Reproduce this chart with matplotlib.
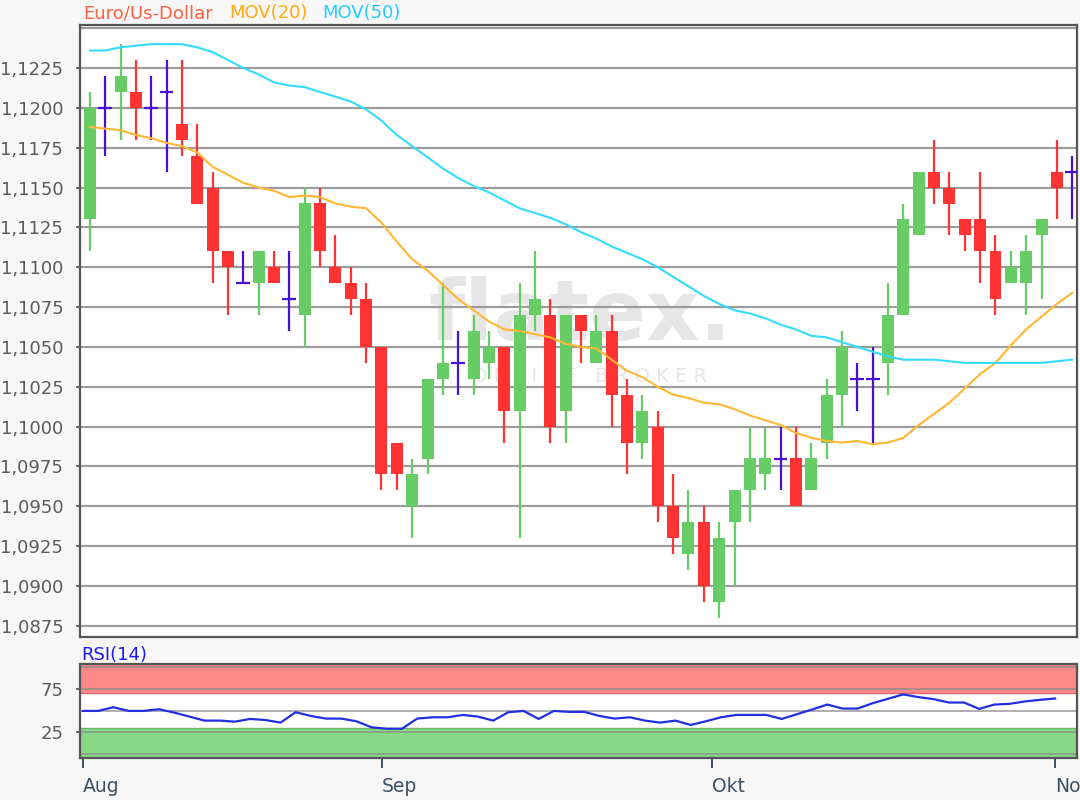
import numpy as np
import matplotlib
matplotlib.use("Agg")
import matplotlib.pyplot as plt
from matplotlib.ticker import FuncFormatter

plt.rcParams["font.family"] = ["DejaVu Sans"]

# ── Daily candles, Euro/Us-Dollar ────────────────────────────────────────────
opens = [1.1130, 1.1200, 1.1210, 1.1210, 1.1200, 1.1210, 1.1190, 1.1170, 1.1150, 1.1110,
         1.1090, 1.1090, 1.1100, 1.1080, 1.1070, 1.1140, 1.1100, 1.1090, 1.1080, 1.1050,
         1.0990, 1.0950, 1.0980, 1.1030, 1.1040, 1.1030, 1.1040, 1.1050, 1.1010, 1.1070,
         1.1070, 1.1010, 1.1070, 1.1040, 1.1060, 1.1020, 1.0990, 1.1000, 1.0950, 1.0920,
         1.0940, 1.0890, 1.0940, 1.0960, 1.0970, 1.0980, 1.0980, 1.0960, 1.0990, 1.1020,
         1.1030, 1.1030, 1.1040, 1.1070, 1.1120, 1.1160, 1.1150, 1.1130, 1.1130, 1.1110,
         1.1090, 1.1090, 1.1120, 1.1160, 1.1160]
highs = [1.1210, 1.1220, 1.1240, 1.1230, 1.1220, 1.1230, 1.1230, 1.1190, 1.1160, 1.1110,
         1.1110, 1.1110, 1.1110, 1.1110, 1.1150, 1.1150, 1.1120, 1.1100, 1.1090, 1.1050,
         1.0990, 1.0980, 1.1030, 1.1090, 1.1060, 1.1070, 1.1060, 1.1050, 1.1090, 1.1110,
         1.1080, 1.1070, 1.1070, 1.1070, 1.1070, 1.1030, 1.1020, 1.1010, 1.0970, 1.0960,
         1.0950, 1.0940, 1.0960, 1.1000, 1.1000, 1.1000, 1.1000, 1.0990, 1.1030, 1.1060,
         1.1040, 1.1050, 1.1090, 1.1140, 1.1160, 1.1180, 1.1160, 1.1130, 1.1160, 1.1120,
         1.1110, 1.1120, 1.1130, 1.1180, 1.1170]
lows = [1.1110, 1.1170, 1.1180, 1.1180, 1.1180, 1.1160, 1.1170, 1.1140, 1.1090, 1.1070,
        1.1090, 1.1070, 1.1090, 1.1060, 1.1050, 1.1100, 1.1090, 1.1070, 1.1040, 1.0960,
        1.0960, 1.0930, 1.0970, 1.1020, 1.1020, 1.1020, 1.1030, 1.0990, 1.0930, 1.1060,
        1.0990, 1.0990, 1.1040, 1.1040, 1.1000, 1.0970, 1.0980, 1.0940, 1.0920, 1.0910,
        1.0890, 1.0880, 1.0900, 1.0940, 1.0960, 1.0960, 1.0950, 1.0960, 1.0980, 1.1000,
        1.1010, 1.0990, 1.1020, 1.1070, 1.1120, 1.1140, 1.1120, 1.1110, 1.1090, 1.1070,
        1.1090, 1.1070, 1.1080, 1.1130, 1.1130]
closes = [1.1200, 1.1200, 1.1220, 1.1200, 1.1200, 1.1210, 1.1180, 1.1140, 1.1110, 1.1100,
          1.1090, 1.1110, 1.1090, 1.1080, 1.1140, 1.1110, 1.1090, 1.1080, 1.1050, 1.0970,
          1.0970, 1.0970, 1.1030, 1.1040, 1.1040, 1.1060, 1.1050, 1.1010, 1.1070, 1.1080,
          1.1000, 1.1070, 1.1060, 1.1060, 1.1020, 1.0990, 1.1010, 1.0950, 1.0930, 1.0940,
          1.0900, 1.0930, 1.0960, 1.0980, 1.0980, 1.0980, 1.0950, 1.0980, 1.1020, 1.1050,
          1.1030, 1.1030, 1.1070, 1.1130, 1.1160, 1.1150, 1.1140, 1.1120, 1.1110, 1.1080,
          1.1100, 1.1110, 1.1130, 1.1150, 1.1160]

# moving averages as drawn on the chart
mov20 = [1.1188, 1.1187, 1.1186, 1.1183, 1.1181, 1.1178, 1.1176, 1.1172, 1.1163, 1.1158,
         1.1153, 1.1150, 1.1148, 1.1144, 1.1145, 1.1144, 1.1140, 1.1138, 1.1137, 1.1128,
         1.1116, 1.1105, 1.1098, 1.1089, 1.1080, 1.1073, 1.1066, 1.1061, 1.1060, 1.1058,
         1.1056, 1.1052, 1.1050, 1.1049, 1.1042, 1.1035, 1.1031, 1.1025, 1.1020, 1.1018,
         1.1015, 1.1014, 1.1011, 1.1007, 1.1004, 1.1001, 1.0996, 1.0993, 1.0991, 1.0990,
         1.0991, 1.0989, 1.0990, 1.0993, 1.1001, 1.1008, 1.1015, 1.1024, 1.1033, 1.1040,
         1.1051, 1.1061, 1.1069, 1.1077, 1.1084]
mov50 = [1.1236, 1.1236, 1.1238, 1.1239, 1.1240, 1.1240, 1.1240, 1.1238, 1.1235, 1.1230,
         1.1225, 1.1221, 1.1216, 1.1214, 1.1213, 1.1210, 1.1207, 1.1204, 1.1199, 1.1192,
         1.1183, 1.1176, 1.1169, 1.1162, 1.1156, 1.1151, 1.1147, 1.1142, 1.1137, 1.1134,
         1.1131, 1.1127, 1.1122, 1.1118, 1.1113, 1.1109, 1.1105, 1.1100, 1.1094, 1.1088,
         1.1082, 1.1077, 1.1073, 1.1071, 1.1068, 1.1064, 1.1061, 1.1057, 1.1056, 1.1053,
         1.1050, 1.1047, 1.1044, 1.1042, 1.1042, 1.1042, 1.1041, 1.1040, 1.1040, 1.1040,
         1.1040, 1.1040, 1.1040, 1.1041, 1.1042]

rsi = [49.6, 49.6, 53.8, 49.6, 49.6, 51.5, 47.7, 43.1, 38.5, 38.5,
       37.3, 40.4, 39.2, 36.2, 48.1, 43.8, 40.8, 40.8, 37.7, 30.8,
       29.2, 29.2, 40.8, 42.3, 42.3, 45.0, 43.1, 38.5, 48.1, 49.6,
       40.4, 49.6, 48.5, 48.5, 43.8, 40.8, 42.3, 38.5, 36.2, 38.5,
       33.5, 37.7, 42.3, 45.0, 45.0, 45.0, 40.4, 45.8, 51.2, 56.9,
       52.3, 52.3, 58.5, 63.5, 68.5, 65.4, 63.1, 59.2, 59.2, 51.9,
       56.9, 57.7, 60.4, 62.3, 63.8]

price_ticks = [1.0875, 1.0900, 1.0925, 1.0950, 1.0975, 1.1000, 1.1025, 1.1050,
               1.1075, 1.1100, 1.1125, 1.1150, 1.1175, 1.1200, 1.1225]
month_labels = ["Aug", "Sep", "Okt", "Nov"]
month_pos = [0.0, 19.68, 41.41, 63.99]   # bar index of each month start (RSI panel)

# ── Colours ──────────────────────────────────────────────────────────────────
UP, DOWN, DOJI = "#66cc66", "#ff3333", "#4a0fd6"
C20, C50 = "#ffb733", "#33dcff"
GRID = "#9c9c9c"
FRAME = "#555555"
TICK_TXT = "#5a5a5a"

fig = plt.figure(figsize=(10.8, 8), dpi=100)
fig.patch.set_facecolor("#f7f7f7")

ax = fig.add_axes([80 / 1080, 1 - 637 / 800, 997 / 1080, 612 / 800])
ax_r = fig.add_axes([80 / 1080, 1 - 757.7 / 800, 997 / 1080, 93.4 / 800])

x = np.arange(len(opens))
o, h, l, c = map(np.array, (opens, highs, lows, closes))

# ── Candles ──────────────────────────────────────────────────────────────────
cols = np.where(c > o + 1e-9, UP, np.where(c < o - 1e-9, DOWN, DOJI))
ax.vlines(x, l, h, colors=cols, lw=1.6, zorder=3)
body = np.abs(c - o) > 1e-9
ax.bar(x[body], np.abs(c - o)[body], bottom=np.minimum(o, c)[body],
       width=0.78, color=cols[body], linewidth=0, zorder=4)
ax.hlines(c[~body], x[~body] - 0.45, x[~body] + 0.45, colors=DOJI, lw=1.6, zorder=4)

ax.plot(x, mov20, color=C20, lw=1.5, zorder=5)
ax.plot(x, mov50, color=C50, lw=1.5, zorder=5)

ax.set_xlim(-0.64, 64.31)
ax.set_ylim(1.0868, 1.1252)
ax.set_yticks(price_ticks)
ax.yaxis.set_major_formatter(FuncFormatter(lambda v, _: f"{v:.4f}".replace(".", ",")))
ax.set_xticks([])
for lvl in price_ticks + [1.1250]:
    ax.axhline(lvl, color=GRID, lw=1.6, zorder=1)
ax.tick_params(axis="y", length=3, width=1.2, color=FRAME, pad=9,
               labelsize=13, labelcolor=TICK_TXT)
for s in ax.spines.values():
    s.set_color(FRAME)
    s.set_linewidth(1.6)

# watermark
ax.text(0.5015, 0.485, "flatex.", transform=ax.transAxes, ha="center", va="baseline",
        fontsize=60, fontweight="bold", color="#e6e6e6", zorder=0.5)
ax.text(0.5115, 0.425, "O N L I N E   B R O K E R", transform=ax.transAxes,
        ha="center", va="center", fontsize=14, color="#e6e6e6", zorder=0.5)

# header
fig.text(83 / 1080, 1 - 13 / 800, "Euro/Us-Dollar", color="#ff6040", fontsize=13, va="center")
fig.text(229 / 1080, 1 - 13 / 800, "MOV(20)", color="#ffaa11", fontsize=13, va="center")
fig.text(322 / 1080, 1 - 13 / 800, "MOV(50)", color="#22ccff", fontsize=13, va="center")

# ── RSI panel ────────────────────────────────────────────────────────────────
ax_r.set_facecolor("white")
ax_r.axhspan(70, 200, facecolor="#ff8888", edgecolor="#d86a6a", lw=1, zorder=1)
ax_r.axhspan(-100, 30, facecolor="#88d888", edgecolor="#6ab56a", lw=1, zorder=1)
for lvl in [0, 25, 50, 75, 100]:
    ax_r.axhline(lvl, color="#8a8a8a", lw=1.2, alpha=0.8, zorder=2)
ax_r.plot(x, rsi, color="#2030e0", lw=1.6, zorder=3)
ax_r.set_xlim(-0.2, 65.44)
ax_r.set_ylim(-4, 103)
ax_r.set_yticks([25, 75])
ax_r.tick_params(axis="y", length=3, width=1.2, color=FRAME, pad=9,
                 labelsize=13, labelcolor=TICK_TXT)
ax_r.set_xticks(month_pos)
ax_r.set_xticklabels(month_labels, ha="left")
ax_r.tick_params(axis="x", length=7, width=1.4, color="#3d5066", pad=7,
                 labelsize=13.5, labelcolor="#3d5066")
for s in ax_r.spines.values():
    s.set_color(FRAME)
    s.set_linewidth(1.6)
fig.text(81 / 1080, 1 - 655 / 800, "RSI(14)", color="#1a1aee", fontsize=13, va="center")

fig.savefig("out.png", dpi=100, facecolor=fig.get_facecolor())
